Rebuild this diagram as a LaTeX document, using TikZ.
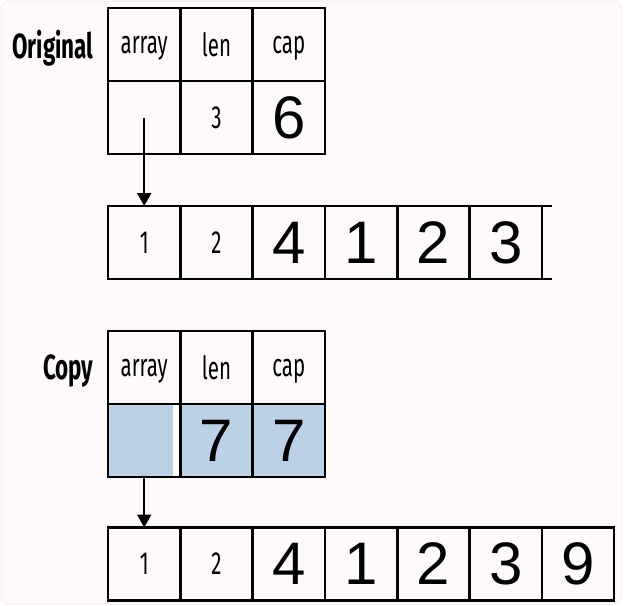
\documentclass[tikz,border=0pt]{standalone}
\usepackage{fontspec}
\usepackage{tikz}
\usetikzlibrary{positioning,arrows.meta}

\newfontfamily\condfont[FakeStretch=0.64]{Fira Sans}
\newfontfamily\digitfont{Liberation Sans}
\definecolor{bgpink}{RGB}{254,250,251}
\definecolor{framepink}{RGB}{248,236,238}
\definecolor{copyblue}{RGB}{188,208,230}

\begin{document}
\begin{tikzpicture}
    [x=1pt,y=-1pt,
     cell/.style={rectangle,draw,line width=2.6pt,minimum width=72.3pt,minimum height=73pt,
                  inner sep=0pt,outer sep=0pt,node distance=0pt},
     field/.style={cell,text depth=0pt,font=\condfont\fontsize{32}{32}\selectfont},
     big/.style={cell,font=\digitfont\fontsize{60}{60}\selectfont},
     title/.style={font=\condfont\bfseries\fontsize{35}{35}\selectfont,anchor=east,text depth=0pt},
     ptr/.style={line width=2.2pt,-{Triangle[width=14pt,length=13pt]}}]

    \useasboundingbox (0,0) rectangle (626,605);
    \filldraw[fill=bgpink,draw=framepink,line width=1pt,rounded corners=8pt] (1,1) rectangle (622,604);

    % original slice header
    \node[field] (oarray) at (144.2,44.5) {array};
    \node[field] (olen) [right=of oarray] {len};
    \node[field] (ocap) [right=of olen] {cap};
    \node[title] (otitle) [left=11pt of oarray] {Original};

    \node[field] (optr) [below=of oarray] {};
    \node[field] (olenval) [below=of olen] {3};
    \node[big] (ocapval) [below=of ocap] {6};

    % backing array of the original
    \node[field] (oa1) at (144.2,242.5) {1};
    \node[field] (oa2) [right=of oa1] {2};
    \node[big] (oa3) [right=of oa2] {4};
    \node[big] (oa4) [right=of oa3] {1};
    \node[big] (oa5) [right=of oa4] {2};
    \node[big] (oa6) [right=of oa5] {3};
    \draw[line width=2.6pt] (oa6.north east) -- ++(10,0);
    \draw[line width=2.6pt] (oa6.south east) -- ++(10,0);

    \draw[ptr] (optr.center) -- (oa1.north);

    % copy header
    \node[field] (carray) at (144.2,367.5) {array};
    \node[field] (clen) [right=of carray] {len};
    \node[field] (ccap) [right=of clen] {cap};
    \node[title] (ctitle) [left=11pt of carray] {Copy};

    \node[field,fill=copyblue] (cptr) [below=of carray] {};
    \node[big,fill=copyblue] (clenval) [below=of clen] {7};
    \node[big,fill=copyblue] (ccapval) [below=of ccap] {7};
    \fill[white] ([xshift=-7pt,yshift=-1.3pt]cptr.north east) rectangle ([xshift=-1.3pt,yshift=1.3pt]cptr.south east);

    % backing array of the copy
    \node[field] (ca1) at (144.2,564) {1};
    \node[field] (ca2) [right=of ca1] {2};
    \node[big] (ca3) [right=of ca2] {4};
    \node[big] (ca4) [right=of ca3] {1};
    \node[big] (ca5) [right=of ca4] {2};
    \node[big] (ca6) [right=of ca5] {3};
    \node[big] (ca7) [right=of ca6] {9};

    \draw[ptr] (cptr.south) -- (ca1.north);
\end{tikzpicture}
\end{document}
